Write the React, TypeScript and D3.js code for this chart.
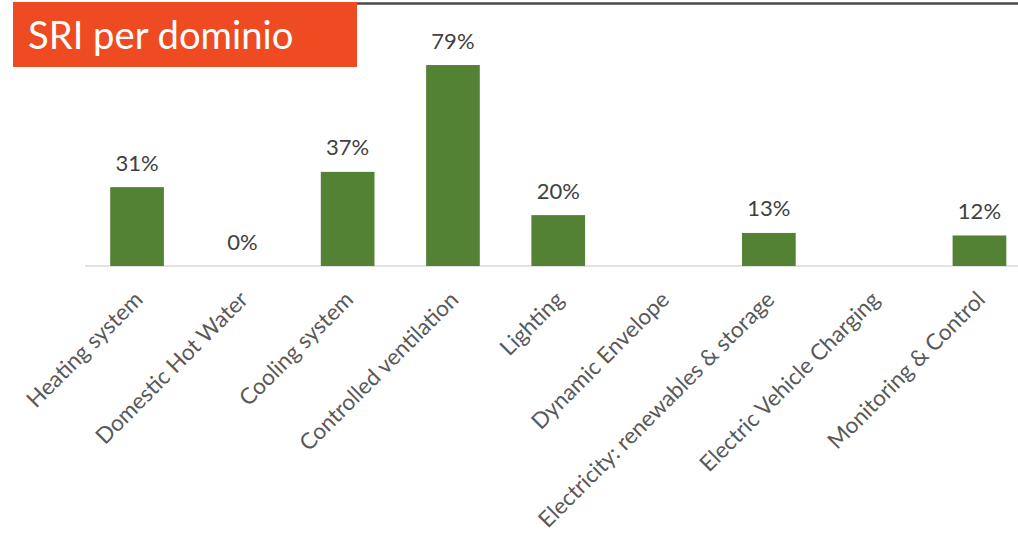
import React from "react";
import * as d3 from "d3";

const categories: string[] = [
  "Heating system",
  "Domestic Hot Water",
  "Cooling system",
  "Controlled ventilation",
  "Lighting",
  "Dynamic Envelope",
  "Electricity: renewables & storage",
  "Electric Vehicle Charging",
  "Monitoring & Control",
];

const values: (number | null)[] = [0.31, 0, 0.37, 0.79, 0.2, null, 0.13, null, 0.12];

const title = "SRI per dominio";

const W = 1018;
const H = 541;

export default function App() {
  const x = d3
    .scaleBand<string>()
    .domain(categories)
    .range([84.4, 1032.1])
    .paddingInner(0.49)
    .paddingOuter(0.245);
  const y = d3.scaleLinear().domain([0, 1]).range([266, 11.6]);
  const fmt = d3.format(".0%");
  const font = "Lato, 'Open Sans', sans-serif";

  return (
    <div style={{ position: "absolute", left: 0, top: 0 }}>
      <svg width={W} height={H} style={{ display: "block", background: "#fff" }}>
        <line x1={13} x2={W} y1={3.5} y2={3.5} stroke="#4a4a4a" strokeWidth={2.5} />
        <rect x={13} y={2} width={344} height={65} fill="#EE4B22" />
        <text x={28} y={49} fill="#fff" fontFamily={font} fontSize={38.2}>
          {title}
        </text>
        <line x1={85} x2={W} y1={y(0)} y2={y(0)} stroke="#d9d9d9" strokeWidth={1.5} />
        {categories.map((c, i) => {
          const v = values[i];
          const cx = (x(c) as number) + x.bandwidth() / 2;
          return (
            <g key={c}>
              {v !== null && v > 0 && (
                <rect
                  x={x(c)}
                  y={y(v)}
                  width={x.bandwidth()}
                  height={y(0) - y(v)}
                  fill="#548235"
                />
              )}
              {v !== null && (
                <text
                  x={cx}
                  y={y(v) - 16.5}
                  textAnchor="middle"
                  fontFamily={font}
                  fontSize={22}
                  fill="#404040"
                >
                  {fmt(v)}
                </text>
              )}
              <text
                transform={`translate(${cx + 7},${301}) rotate(-45)`}
                textAnchor="end"
                fontFamily={font}
                fontSize={22.5}
                fill="#595959"
              >
                {c}
              </text>
            </g>
          );
        })}
      </svg>
    </div>
  );
}
